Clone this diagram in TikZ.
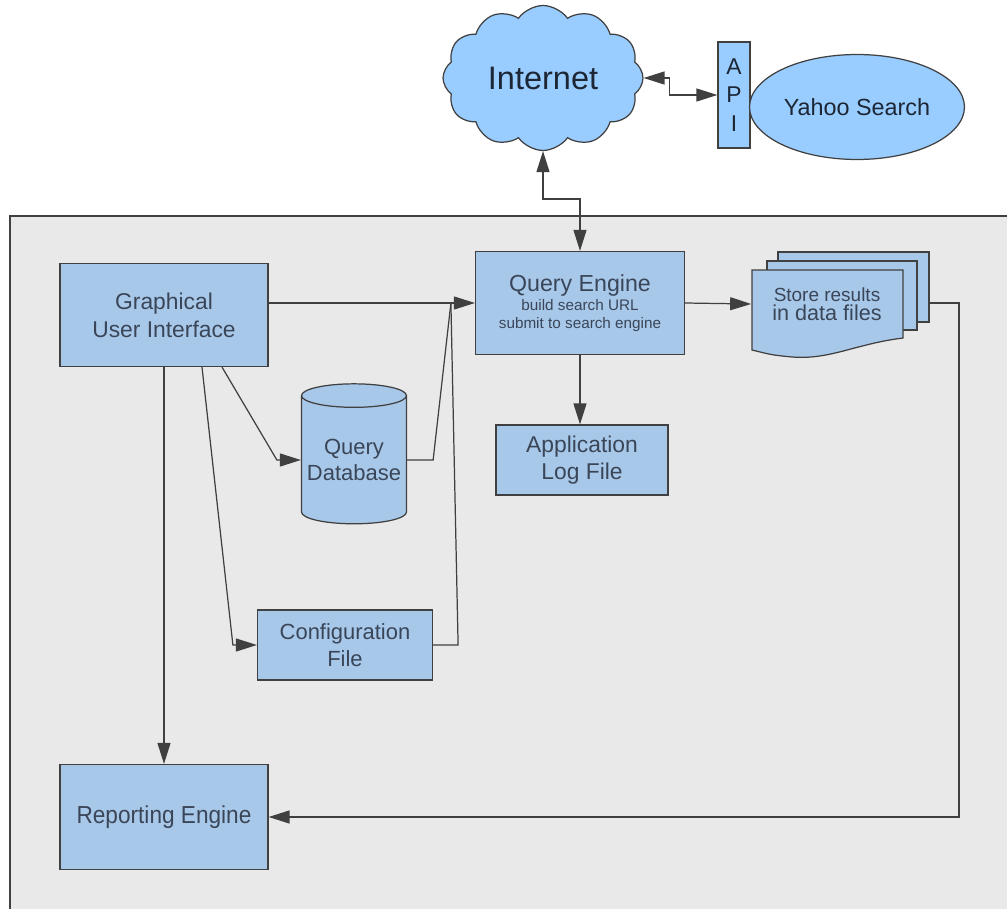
\documentclass[tikz,border=0pt]{standalone}
\usepackage{fontspec}
\setmainfont{Liberation Sans}
\newfontfamily\narrowfont[FakeStretch=0.92]{Liberation Sans}
\usetikzlibrary{arrows.meta,calc,shapes.geometric,shapes.symbols}
\definecolor{BoxBlue}{RGB}{168,200,234}
\definecolor{CloudBlue}{RGB}{153,204,255}
\definecolor{PanelGray}{RGB}{233,233,233}
\definecolor{LineGray}{RGB}{64,64,64}
\definecolor{TextSlate}{RGB}{58,70,88}
\definecolor{TextDark}{RGB}{28,38,52}

\begin{document}
\begin{tikzpicture}[x=0.02cm,y=-0.02cm,
    box/.style={draw=LineGray,line width=0.7pt,fill=BoxBlue,text=TextSlate,
      align=center,inner sep=2pt},
    conn/.style={draw=LineGray,line width=0.7pt},
    tip/.style={-{Triangle[length=0.42cm,width=0.26cm]}},
    both/.style={{Triangle[length=0.42cm,width=0.26cm]}-{Triangle[length=0.42cm,width=0.26cm]}},
    page/.style={draw=LineGray,line width=0.7pt,fill=BoxBlue}]
  \useasboundingbox (0,0) rectangle (1007,909);
  \fill[white] (0,0) rectangle (1007,909);
  % system panel
  \begin{scope}
    \clip (0,0) rectangle (1007,909);
    \draw[fill=PanelGray,draw=LineGray,line width=0.8pt] (10,216) rectangle (1015,920);
  \end{scope}

  % outside world
  \node[cloud,cloud puffs=12,cloud puff arc=110,aspect=1.4,draw=LineGray,line width=0.7pt,
    fill=CloudBlue,minimum width=4.0cm,minimum height=2.9cm,text=TextDark,
    font=\fontsize{18.5}{22}\selectfont] (inet) at (543,78) {Internet};
  \node[box,fill=CloudBlue,text=TextDark,minimum width=0.64cm,minimum height=2.12cm,inner sep=0pt,
    font=\fontsize{13}{16.4}\selectfont] (api) at (734,95) {A\\P\\I};
  \node[ellipse,draw=LineGray,line width=0.7pt,fill=CloudBlue,text=TextDark,
    minimum width=4.3cm,minimum height=2.1cm,inner sep=0pt,
    font=\fontsize{13.3}{15}\selectfont] (yahoo) at (857,107) {Yahoo Search};

  % components
  \node[box,minimum width=4.16cm,minimum height=2.06cm,font=\fontsize{13}{16}\selectfont]
    (gui) at (164,315) {Graphical\\User Interface};
  \node[box,minimum width=4.18cm,minimum height=2.06cm]
    (qe) at (580,303) {{\fontsize{13.2}{15}\selectfont Query Engine}\\[-1pt]
      {\fontsize{8.7}{10}\selectfont build search URL}\\[-2pt]
      {\fontsize{8.7}{10}\selectfont submit to search engine}};
  \node[box,minimum width=3.44cm,minimum height=1.4cm,font=\fontsize{13}{15}\selectfont]
    (log) at (582,460) {Application\\Log File};
  \node[cylinder,shape border rotate=90,aspect=0.25,draw=LineGray,line width=0.7pt,
    fill=BoxBlue,text=TextSlate,align=center,minimum width=2.1cm,minimum height=2.8cm,
    inner sep=0pt,font=\fontsize{12.5}{15}\selectfont] (qdb) at (354,460) {Query\\Database};
  \node[box,minimum width=3.5cm,minimum height=1.4cm,font=\fontsize{12.5}{15}\selectfont]
    (cfg) at (345,645) {Configuration\\File};
  \node[box,minimum width=4.16cm,minimum height=2.1cm,font=\narrowfont\fontsize{14}{16}\selectfont]
    (rep) at (164,817) {Reporting Engine};

  % result files
  \draw[page] (778,252) rectangle (929,322);
  \draw[page] (767,261) rectangle (917,330);
  \draw[page] (752,270) -- (903,270) -- (903,338)
    .. controls (855,344) and (830,360) .. (792,357)
    .. controls (772,355) .. (752,350) -- cycle;
  \node[text=TextSlate,align=center,minimum width=3.02cm,minimum height=1.36cm,inner sep=0pt]
    (store) at (827,304) {{\fontsize{10.8}{13}\selectfont Store results}\\[-1pt]
      {\fontsize{12.3}{14}\selectfont in data files}};
  \coordinate (storeback) at (929,303);
  \coordinate (merge) at ($(qe.west)+(-24,0)$);

  % connectors
  \draw[conn,both] (inet.east) -- ++(26,0) |- (api.west);
  \draw[conn,both] (inet.south) -- ++(0,48) -| (qe.north);
  \draw[conn,tip] (gui.east |- qe.west) -- (qe.west);
  \draw[conn] (qdb.east) -- ++(26,0) -- (merge);
  \draw[conn] (cfg.east) -- ++(25,0) -- (merge);
  \draw[conn,tip] ($(gui.south)+(58,0)$) -- ($(qdb.west)+(-24,0)$) -- (qdb.west);
  \draw[conn,tip] ($(gui.south)+(38,0)$) -- ($(cfg.west)+(-24,0)$) -- (cfg.west);
  \draw[conn,tip] (gui.south) -- (rep.north);
  \draw[conn,tip] (qe.south) -- (log.north -| qe.south);
  \draw[conn,tip] (qe.east) -- (store.west);
  \draw[conn,tip] (storeback) -- ++(30,0) |- (rep.east);
\end{tikzpicture}
\end{document}
